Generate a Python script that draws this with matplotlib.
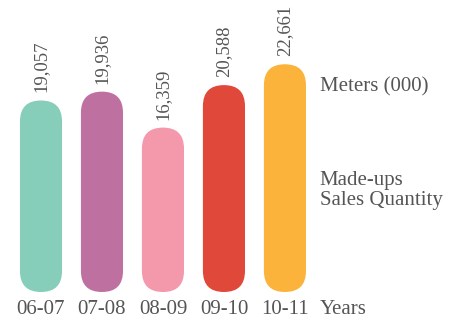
import matplotlib.pyplot as plt
from matplotlib.patches import FancyBboxPatch

years = ['06-07', '07-08', '08-09', '09-10', '10-11']
values = [19057, 19936, 16359, 20588, 22661]
colors = ['#86cdba', '#be71a0', '#f498ac', '#e0493a', '#fbb33b']

plt.rcParams['font.family'] = 'Liberation Serif'
txt = '#555555'

fig = plt.figure(figsize=(4.49, 3.22), dpi=100)
ax = fig.add_axes([0, 0, 1, 1])
ax.set_xlim(-0.672, 6.69)
ax.set_ylim(-2985, 29055)
ax.axis('off')

w = 0.69
# pixels per data unit, to keep the rounded ends circular
fig.canvas.draw()
p0 = ax.transData.transform((0, 0))
p1 = ax.transData.transform((1, 1))
aspect = (p1[0] - p0[0]) / (p1[1] - p0[1])
r = w / 2

for i, (v, c) in enumerate(zip(values, colors)):
    box = FancyBboxPatch((i - w / 2, 0), w, v,
                         boxstyle=f'round,pad=0,rounding_size={r}',
                         mutation_aspect=aspect, fc=c, ec='none')
    ax.add_patch(box)
    ax.text(i, v + 800, f'{v:,}', rotation=90, ha='center', va='bottom',
            fontsize=13.5, color=txt)
    ax.text(i, -1750, years[i], ha='center', va='center', fontsize=15, color=txt)

ax.text(4.57, -1750, 'Years', ha='left', va='center', fontsize=15, color=txt)
ax.text(4.57, 20400, 'Meters (000)', ha='left', va='center', fontsize=15, color=txt)
ax.text(4.57, 10100, 'Made-ups\nSales Quantity', ha='left', va='center',
        fontsize=15, color=txt, linespacing=1.05)

fig.savefig('out.png', dpi=100)
